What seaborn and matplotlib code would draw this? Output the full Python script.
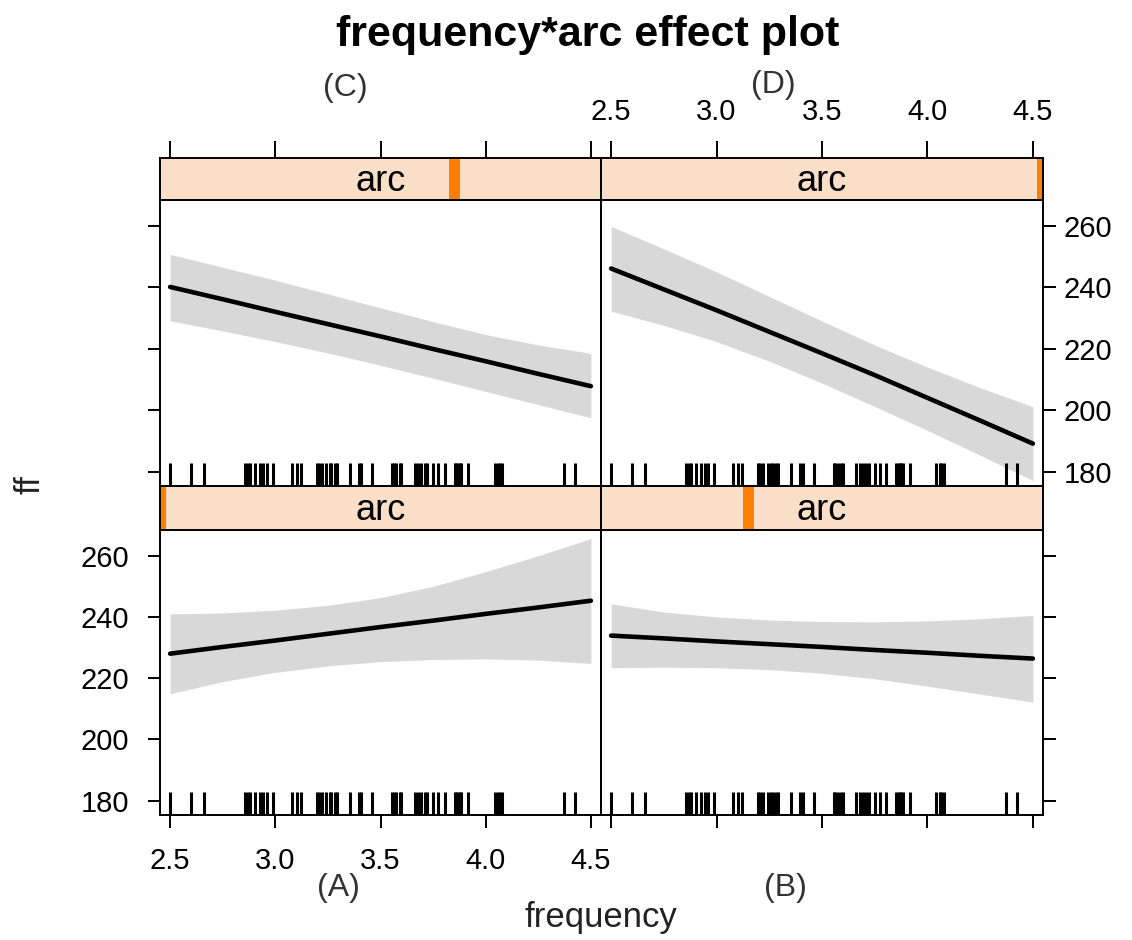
import numpy as np
import pandas as pd
import seaborn as sns
import matplotlib.pyplot as plt
from matplotlib.patches import Rectangle

sns.set_theme(style="white")
plt.rcParams['font.family'] = ['Liberation Sans', 'DejaVu Sans']
plt.rcParams['text.color'] = 'black'
plt.rcParams['xtick.color'] = 'black'
plt.rcParams['ytick.color'] = 'black'

# effect estimates (frequency grid, fit, lower / upper band)
freq_grid = [2.5, 2.75, 3.0, 3.25, 3.5, 3.75, 4.0, 4.25, 4.5]

fit_A = [228.0, 230.2, 232.3, 234.5, 236.7, 238.8, 241.0, 243.1, 245.3]
lower_A = [214.9, 218.9, 221.9, 224.0, 225.4, 226.1, 226.3, 225.9, 224.8]
upper_A = [241.0, 241.3, 242.2, 243.8, 246.3, 250.0, 254.8, 260.0, 265.6]

fit_B = [233.9, 233.0, 232.0, 231.1, 230.2, 229.2, 228.3, 227.3, 226.4]
lower_B = [223.4, 223.6, 223.4, 222.8, 221.6, 219.8, 217.4, 214.8, 212.2]
upper_B = [244.3, 241.6, 240.0, 239.0, 238.5, 238.4, 238.7, 239.4, 240.5]

fit_C = [240.1, 236.1, 232.0, 228.0, 224.0, 219.9, 215.9, 211.8, 207.8]
lower_C = [229.1, 225.8, 222.3, 218.6, 214.6, 210.4, 206.1, 201.8, 197.5]
upper_C = [250.7, 246.5, 242.3, 237.8, 233.3, 228.8, 224.6, 221.2, 218.5]

fit_D = [246.1, 239.3, 232.5, 225.5, 218.5, 211.4, 204.0, 196.6, 189.1]
lower_D = [232.2, 227.6, 222.3, 215.9, 208.8, 201.2, 193.4, 185.3, 177.1]
upper_D = [259.8, 252.5, 245.0, 237.0, 229.0, 221.2, 214.0, 207.3, 201.1]

# where the arc level sits inside its range (strip indicator)
arc_pos = {"A": 0.0, "B": 0.333, "C": 0.667, "D": 1.0}

# observed frequencies (rug)
rug_freq = [2.5, 2.598, 2.661, 2.856, 2.869, 2.880, 2.903, 2.927, 2.943, 2.959,
            2.990, 3.077, 3.101, 3.120, 3.196, 3.207, 3.220, 3.243, 3.259, 3.267,
            3.283, 3.291, 3.354, 3.397, 3.409, 3.460, 3.555, 3.564, 3.576, 3.591,
            3.599, 3.663, 3.678, 3.694, 3.710, 3.723, 3.749, 3.773, 3.805, 3.852,
            3.860, 3.868, 3.876, 3.884, 3.916, 4.042, 4.058, 4.066, 4.077, 4.374,
            4.425]

x_ticks = [2.5, 3.0, 3.5, 4.0, 4.5]
x_labels = ["2.5", "3.0", "3.5", "4.0", "4.5"]
y_ticks = [180, 200, 220, 240, 260]

panels = {
    "A": (fit_A, lower_A, upper_A),
    "B": (fit_B, lower_B, upper_B),
    "C": (fit_C, lower_C, upper_C),
    "D": (fit_D, lower_D, upper_D),
}
# (column, row) in the 2x2 lattice, row 0 on top
grid_pos = {"C": (0, 0), "D": (1, 0), "A": (0, 1), "B": (1, 1)}

W, H = 1132, 940
fig = plt.figure(figsize=(W / 100, H / 100), dpi=100)

col_x = [160, 601]
col_w = [441, 442]
plot_y = [200, 530]
plot_h = [286, 285]
strip_y = [158, 486]
strip_h = [42, 44]

xlim = (2.452, 4.548)
ylim = (175.3, 268.4)
band_col = "#d8d8d8"
strip_col = "#fadfc8"
orange = "#ff7f00"
lw_frame = 1.4


def add_ax(x0, y0, w, h):
    return fig.add_axes([x0 / W, 1 - (y0 + h) / H, w / W, h / H])


for key, (fit, lo, up) in panels.items():
    c, r = grid_pos[key]
    ax = add_ax(col_x[c], plot_y[r], col_w[c], plot_h[r])
    ax.fill_between(freq_grid, lo, up, color=band_col, lw=0)
    sns.lineplot(x=freq_grid, y=fit, ax=ax, color="black", lw=3.3)
    sns.rugplot(x=rug_freq, ax=ax, height=0.08, color="black", linewidth=2.2)
    ax.set_xlim(*xlim)
    ax.set_ylim(*ylim)
    for s in ax.spines.values():
        s.set_linewidth(lw_frame)
        s.set_color("black")
    ax.set_xticks(x_ticks)
    ax.set_xticklabels(x_labels)
    ax.set_yticks(y_ticks)
    ax.tick_params(length=9, width=lw_frame, labelsize=21, color="black",
                   labelcolor="black", direction="out")
    # x ticks only on the bottom row
    if r == 1:
        ax.tick_params(axis="x", bottom=True, top=False,
                       labelbottom=(c == 0), pad=14)
    else:
        ax.tick_params(axis="x", bottom=False, top=False, labelbottom=False)
    # y ticks on the outer sides
    if c == 0:
        ax.tick_params(axis="y", left=True, right=False,
                       labelleft=(r == 1), labelright=False, pad=13)
    else:
        ax.tick_params(axis="y", left=False, right=True,
                       labelleft=False, labelright=(r == 0), pad=6)
    ax.set_xlabel("")
    ax.set_ylabel("")

    # strip
    sax = add_ax(col_x[c], strip_y[r], col_w[c], strip_h[r])
    sax.set_facecolor(strip_col)
    sax.set_xlim(*xlim)
    sax.set_ylim(0, 1)
    for s in sax.spines.values():
        s.set_linewidth(lw_frame)
        s.set_color("black")
    bw = 0.025
    sax.add_patch(Rectangle((arc_pos[key] - bw / 2, 0), bw, 1,
                            transform=sax.transAxes, color=orange, lw=0))
    sax.text(0.5, 0.45, "arc", transform=sax.transAxes, ha="center",
             va="center", fontsize=26)
    sax.set_yticks([])
    if r == 0:
        sax.set_xticks(x_ticks)
        sax.set_xticklabels(x_labels)
        sax.tick_params(axis="x", bottom=False, top=True, labelbottom=False,
                        labeltop=(c == 1), length=12, width=lw_frame,
                        labelsize=21, color="black", labelcolor="black",
                        direction="out", pad=11)
    else:
        sax.set_xticks([])

fig.text(588 / W, 1 - 35 / H, "frequency*arc effect plot", ha="center",
         va="center", fontsize=31, fontweight="bold")
fig.text(345 / W, 1 - 88 / H, "(C)", ha="center", va="center", fontsize=23,
         color="#333333")
fig.text(773 / W, 1 - 85 / H, "(D)", ha="center", va="center", fontsize=23,
         color="#333333")
fig.text(338 / W, 1 - 888 / H, "(A)", ha="center", va="center", fontsize=23,
         color="#333333")
fig.text(785 / W, 1 - 888 / H, "(B)", ha="center", va="center", fontsize=23,
         color="#333333")
fig.text(601 / W, 1 - 918 / H, "frequency", ha="center", va="center",
         fontsize=25, color="#222222")
fig.text(30 / W, 1 - 485 / H, "ff", ha="center", va="center", fontsize=25,
         rotation=90, color="#222222")

fig.savefig("out.png", dpi=100)
